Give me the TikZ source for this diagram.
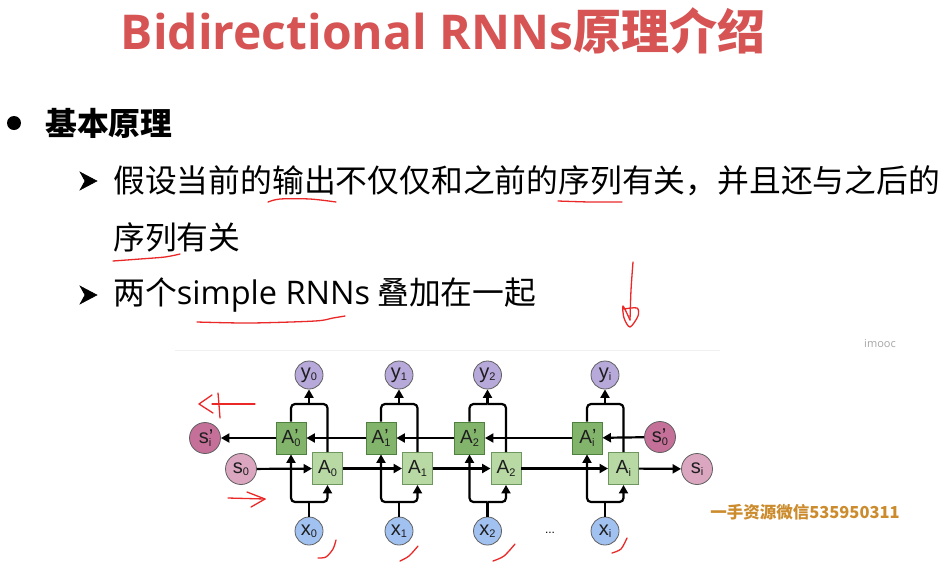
\documentclass[tikz,border=0pt]{standalone}
\usepackage{fontspec}
\setmainfont{Liberation Sans}
\newfontfamily\cjk{Noto Sans CJK SC}
\newfontfamily\osans{Open Sans}
\usetikzlibrary{arrows.meta}
\definecolor{titlered}{RGB}{214,84,84}
\definecolor{apf}{RGB}{130,180,108}
\definecolor{apd}{RGB}{78,128,62}
\definecolor{abf}{RGB}{184,216,164}
\definecolor{abd}{RGB}{110,150,95}
\definecolor{ycol}{RGB}{183,169,218}
\definecolor{xcol}{RGB}{161,193,240}
\definecolor{sdark}{RGB}{197,112,152}
\definecolor{slight}{RGB}{218,166,192}
\definecolor{gold}{RGB}{204,140,46}
\definecolor{pen}{RGB}{235,40,40}
\definecolor{ink}{RGB}{30,30,30}
\newcommand\lab[2]{#1\raisebox{-0.12em}{\fontsize{11}{11}\selectfont #2}}
\newcommand\labp[2]{#1\makebox[0pt][l]{\raisebox{0.02em}{'}}\raisebox{-0.15em}{\fontsize{11}{11}\selectfont #2}}
\tikzset{
  apbox/.style={draw=apd, fill=apf, line width=0.9pt, minimum width=30pt, minimum height=32pt, inner sep=0pt, text=ink, font=\fontsize{19}{19}\selectfont},
  abbox/.style={draw=abd, fill=abf, line width=0.9pt, minimum width=30pt, minimum height=32pt, inner sep=0pt, text=ink, font=\fontsize{19}{19}\selectfont},
  circ/.style={circle, draw=gray!75!black, line width=0.8pt, inner sep=0pt, text=ink, font=\fontsize{20}{20}\selectfont},
  ycirc/.style={circ, fill=ycol, minimum size=28pt},
  xcirc/.style={circ, fill=xcol, minimum size=28pt},
  sdk/.style={circ, fill=sdark, minimum size=31pt},
  slt/.style={circ, fill=slight, minimum size=31pt},
  arr/.style={line width=2.2pt, -{Triangle[length=8.5pt,width=9pt]}},
  ln/.style={line width=2.2pt, rounded corners=4pt},
  redpen/.style={pen, line width=1.3pt, line cap=round, line join=round},
  body/.style={anchor=west, inner sep=0pt, font=\cjk\fontsize{31.8}{31.8}\selectfont},
  tick/.style={fill=black, draw=black, line width=0.5pt, line join=miter}
}
\begin{document}
\begin{tikzpicture}[x=1pt,y=-1pt]
\useasboundingbox (0,0) rectangle (949,566);
\fill[white] (0,0) rectangle (949,566);
% title
\node[inner sep=0pt, text=titlered] (title) at (443,31)
  {\osans\bfseries\fontsize{48}{48}\selectfont Bidirectional RNNs\cjk\bfseries 原理介绍};
% bullets
\fill (14,123) circle (7);
\node[anchor=west, inner sep=0pt, font=\cjk\bfseries\fontsize{31.8}{31.8}\selectfont] (h1) at (45,123) {基本原理};
\foreach \yy in {181,295} {
  \filldraw[tick] (80,\yy-9) -- (97,\yy) -- (80,\yy+9) -- (85,\yy) -- cycle;
}
\node[body] (l1) at (113,181) {假设当前的输出不仅仅和之前的序列有关，并且还与之后的};
\node[body] (l2) at (113,237) {序列有关};
\node[body] (l3) at (113,295) {两个{\osans\fontsize{32.5}{32.5}\selectfont simple RNNs} 叠加在一起};
% frame line and mark
\draw[gray!12, line width=0.8pt] (175,350) -- (720,350);
\node[text=gray!70, font=\osans\fontsize{11}{11}\selectfont] (imooc) at (880,344) {imooc};
% diagram
\node[sdk] (spi) at (205,438) {\labp{s}{i}};
\node[slt] (s0) at (241,469) {\lab{s}{0}};
\node[sdk] (sp0) at (660,437) {\labp{s}{0}};
\node[slt] (si) at (697,469) {\lab{s}{i}};
\foreach \c/\i in {291/0,381/1,469.5/2,587/i} {
  \node[apbox] (ap\i) at (\c,438) {\labp{A}{\i}};
  \node[abbox] (ab\i) at (\c+36.5,468.5) {\lab{A}{\i}};
  \node[ycirc] (y\i) at (\c+18,375) {\lab{y}{\i}};
  \node[xcirc] (x\i) at (\c+18,531) {\lab{x}{\i}};
  \coordinate (m\i) at (\c+18,404);
  \coordinate (n\i) at (\c+18,502);
}
\node[font=\fontsize{12}{12}\selectfont] (dots) at (550,533) {...};
\foreach \i in {0,1,2,i} {
  \draw[ln] (ap\i.north) |- (m\i);
  \draw[ln] (ab\i.north) |- (m\i);
  \draw[arr] (m\i) -- (y\i.south);
  \draw[ln] (x\i.north) -- (n\i);
  \draw[arr, rounded corners=4pt] (n\i) -| (ap\i.south);
  \draw[arr, rounded corners=4pt] (n\i) -| (ab\i.south);
}
\draw[arr] (s0) -- (ab0);
\draw[arr] (ab0) -- (ab1);
\draw[arr] (ab1) -- (ab2);
\draw[arr] (ab2) -- (abi);
\draw[arr] (abi) -- (si);
\draw[arr] (sp0) -- (api);
\draw[arr] (api) -- (ap2);
\draw[arr] (ap2) -- (ap1);
\draw[arr] (ap1) -- (ap0);
\draw[arr] (ap0) -- (spi);
% watermark
\node[text=gold, inner sep=0pt, font=\cjk\bfseries\fontsize{16.5}{16.5}\selectfont] (wm) at (805,512) {一手资源微信535950311};
% red pen marks
\draw[redpen] plot[smooth] coordinates {(268,202) (280,199) (310,199) (336,202)};
\draw[redpen] plot[smooth] coordinates {(558,201) (590,202) (622,202)};
\draw[redpen] plot[smooth] coordinates {(113,261) (140,259) (165,257) (180,254)};
\draw[redpen] plot[smooth] coordinates {(197,322) (250,323) (315,321) (333,318) (345,316)};
\draw[redpen] plot[smooth] coordinates {(633,262) (631,290) (630,320)};
\draw[redpen] plot[smooth] coordinates {(630,320) (623,306) (624,318) (630,327) (638,316) (637,308) (624,309)};
\draw[redpen] (255,404) -- (212,404);
\draw[redpen] (212,395) -- (199,404) -- (213,413);
\draw[redpen] plot[smooth] coordinates {(218,393) (219,405) (220,418)};
\draw[redpen] (228,498) -- (265,499);
\draw[redpen] (247,492) -- (265,499) -- (251,507);
\draw[redpen] plot[smooth] coordinates {(318,558) (326,557) (333,549) (336,540)};
\draw[redpen] plot[smooth] coordinates {(400,561) (409,556) (418,546)};
\draw[redpen] plot[smooth] coordinates {(493,561) (504,556) (515,544)};
\draw[redpen] plot[smooth] coordinates {(612,553) (621,549) (627,538)};
\end{tikzpicture}
\end{document}
